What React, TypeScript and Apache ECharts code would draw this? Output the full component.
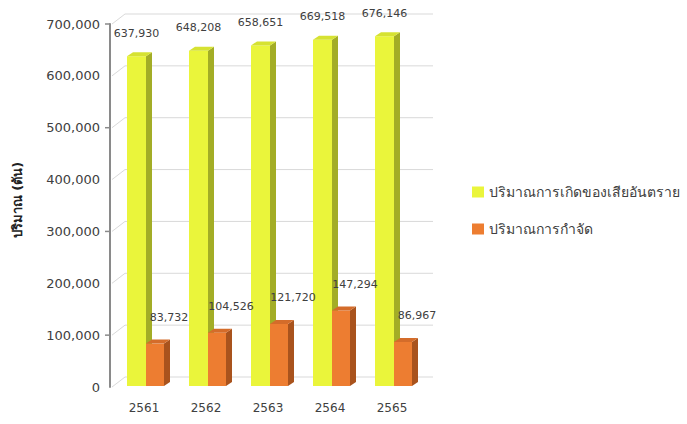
import React, { useEffect, useRef } from "react";
import * as echarts from "echarts";

const years = ["2561", "2562", "2563", "2564", "2565"];
const hazardous = [637930, 648208, 658651, 669518, 676146];
const disposed = [83732, 104526, 121720, 147294, 86967];
const yTicks = [0, 100000, 200000, 300000, 400000, 500000, 600000, 700000];
const seriesNames = ["ปริมาณการเกิดของเสียอันตราย", "ปริมาณการกำจัด"];
const yTitle = "ปริมาณ (ตัน)";

const FONT = "'DejaVu Sans', 'Noto Sans', sans-serif";
const fmt = (v: number) => v.toLocaleString("en-US");

type Palette = { front: string; side: string; top: string };
const yellow: Palette = { front: "#EAF53B", side: "#A3AD26", top: "#D6E232" };
const orange: Palette = { front: "#ED7D31", side: "#A9531D", top: "#D46C2A" };

function bar3d(
  pal: Palette,
  leftOff: number,
  rightOff: number,
  labelDx: number,
  labelDy: number
) {
  return (params: any, api: any) => {
    const idx = api.value(0);
    const val = api.value(1);
    const top = api.coord([idx, val]);
    const base = api.coord([idx, 0]);
    const band = api.size([1, 0])[0];
    const k = band / 62;
    const cx = top[0];
    const L = cx + leftOff * k;
    const R = cx + rightOff * k;
    const yT = top[1];
    const yB = base[1] - 1;
    const dx = 6;
    const dy = -4;
    return {
      type: "group",
      children: [
        {
          type: "polygon",
          shape: { points: [[R, yT], [R + dx, yT + dy], [R + dx, yB + dy], [R, yB]] },
          style: { fill: pal.side },
        },
        {
          type: "rect",
          shape: { x: L, y: yT, width: R - L, height: yB - yT },
          style: { fill: pal.front },
        },
        {
          type: "polygon",
          shape: { points: [[L, yT], [L + dx, yT + dy], [R + dx, yT + dy], [R, yT]] },
          style: { fill: pal.top },
        },
        {
          type: "text",
          x: (L + R) / 2 + labelDx,
          y: yT + labelDy,
          style: {
            text: fmt(val),
            font: `11px ${FONT}`,
            fill: "#404040",
            align: "center",
            verticalAlign: "middle",
          },
        },
      ],
    };
  };
}

export default function App() {
  const ref = useRef<HTMLDivElement>(null);
  useEffect(() => {
    if (!ref.current) return;
    const chart = echarts.init(ref.current, undefined, { renderer: "svg" });
    chart.setOption({
      animation: false,
      backgroundColor: "#ffffff",
      textStyle: { fontFamily: FONT },
      grid: { left: 113, right: 264, top: 24, bottom: 37, containLabel: false },
      xAxis: {
        type: "category",
        data: years,
        axisLine: { show: false },
        axisTick: { show: false },
        axisLabel: { color: "#404040", fontSize: 12, margin: 15, fontFamily: FONT },
        splitLine: { show: false },
      },
      yAxis: {
        type: "value",
        min: 0,
        max: 700000,
        interval: 100000,
        offset: 3,
        axisLine: { show: true, lineStyle: { color: "#8a8a8a", width: 2 } },
        axisTick: { show: false },
        splitLine: { show: false },
        axisLabel: {
          color: "#404040",
          fontSize: 13,
          margin: 10,
          fontFamily: FONT,
          formatter: (v: number) => fmt(v),
        },
      },
      legend: {
        orient: "vertical",
        left: 467,
        top: 180,
        itemWidth: 12,
        itemHeight: 11,
        itemGap: 23,
        icon: "rect",
        textStyle: { color: "#404040", fontSize: 14, fontFamily: FONT },
        data: [
          { name: seriesNames[0], itemStyle: { color: yellow.front } },
          { name: seriesNames[1], itemStyle: { color: orange.front } },
        ],
      },
      graphic: [
        {
          type: "text",
          x: 17,
          y: 200,
          rotation: Math.PI / 2,
          style: {
            text: yTitle,
            font: `bold 13px ${FONT}`,
            fill: "#222222",
            align: "center",
            verticalAlign: "middle",
          },
        },
      ],
      series: [
        {
          type: "custom",
          name: "grid3d",
          silent: true,
          z: 0,
          data: yTicks.map((v) => [0, v]),
          renderItem: (params: any, api: any) => {
            const y = api.coord([0, api.value(1)])[1];
            const cs = params.coordSys;
            const x0 = cs.x - 3;
            const children: any[] = [
              {
                type: "polyline",
                shape: {
                  points: [
                    [x0 + 2, y],
                    [x0 + 15, y - 10],
                    [cs.x + cs.width + 10, y - 10],
                  ],
                },
                style: { stroke: "#d9d9d9", lineWidth: 1, fill: "none" },
              },
            ];
            if ((api.value(1) / 100000) % 2 === 1) {
              children.push({
                type: "line",
                shape: { x1: x0 - 5, y1: y, x2: x0, y2: y },
                style: { stroke: "#8a8a8a", lineWidth: 1.5 },
              });
            }
            return { type: "group", children };
          },
        },
        {
          type: "custom",
          name: seriesNames[0],
          z: 2,
          itemStyle: { color: yellow.front },
          data: hazardous.map((v, i) => [i, v]),
          renderItem: bar3d(yellow, -17, 2, 0, -23),
        },
        {
          type: "custom",
          name: seriesNames[1],
          z: 3,
          itemStyle: { color: orange.front },
          data: disposed.map((v, i) => [i, v]),
          renderItem: bar3d(orange, 2, 20, 14, -26),
        },
      ],
    });
    return () => chart.dispose();
  }, []);
  return (
    <div
      ref={ref}
      style={{ position: "fixed", left: 0, top: 0, width: 687, height: 424 }}
    />
  );
}
